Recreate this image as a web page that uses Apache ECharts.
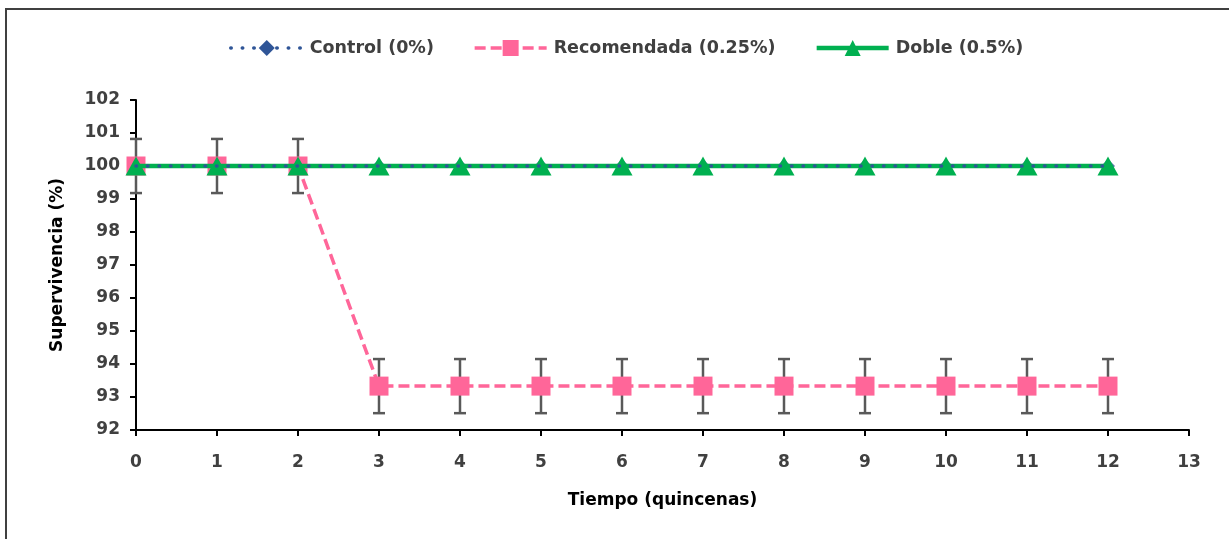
<!DOCTYPE html>
<html>
<head>
<meta charset="utf-8">
<script src="https://cdn.jsdelivr.net/npm/echarts@6/dist/echarts.min.js"></script>
<style>
  html, body { margin: 0; padding: 0; background: #fff; }
  #chart { width: 1229px; height: 539px; }
</style>
</head>
<body>
<div id="chart"></div>
<script>
// Survival (%) per fortnight for three treatment doses
const tiempo = [0, 1, 2, 3, 4, 5, 6, 7, 8, 9, 10, 11, 12];
const control = [100, 100, 100, 100, 100, 100, 100, 100, 100, 100, 100, 100, 100];
const recomendada = [100, 100, 100, 93.33, 93.33, 93.33, 93.33, 93.33, 93.33, 93.33, 93.33, 93.33, 93.33];
const doble = [100, 100, 100, 100, 100, 100, 100, 100, 100, 100, 100, 100, 100];
// Standard deviation shown as error bars on the recommended dose
const recomendadaDE = [0.82, 0.82, 0.82, 0.82, 0.82, 0.82, 0.82, 0.82, 0.82, 0.82, 0.82, 0.82, 0.82];

const serieNames = ['Control (0%)', 'Recomendada (0.25%)', 'Doble (0.5%)'];

const FONT = '"DejaVu Sans", "Noto Sans", sans-serif';
const BLUE = '#2F5597', PINK = '#FF6699', GREEN = '#00B050';

const pairs = (ys) => tiempo.map((t, i) => [t, ys[i]]);
const errData = tiempo.map((t, i) => [t, recomendada[i] - recomendadaDE[i], recomendada[i] + recomendadaDE[i]]);

const chart = echarts.init(document.getElementById('chart'), null, { renderer: 'canvas' });

chart.setOption({
  animation: false,
  backgroundColor: '#fff',
  textStyle: { fontFamily: FONT },
  graphic: [{
    type: 'rect',
    shape: { x: 6, y: 9, width: 1400, height: 700 },
    style: { fill: 'none', stroke: '#404040', lineWidth: 2 },
    silent: true
  }],
  legend: {
    data: serieNames,
    top: 34,
    left: 224,
    itemWidth: 72,
    itemHeight: 20,
    itemGap: 39,
    lineStyle: { width: 'inherit' },
    textStyle: { fontFamily: FONT, fontWeight: 'bold', fontSize: 17.5, color: '#404040', padding: [0, 0, 0, 2] }
  },
  grid: { left: 136, right: 40, top: 100, bottom: 109, containLabel: false },
  xAxis: {
    type: 'value',
    min: 0, max: 13, interval: 1,
    name: 'Tiempo (quincenas)',
    nameLocation: 'middle',
    nameGap: 62,
    nameTextStyle: { fontFamily: FONT, fontWeight: 'bold', fontSize: 17, color: '#000' },
    axisLine: { show: true, onZero: false, lineStyle: { color: '#000', width: 2 } },
    axisTick: { show: true, length: 6, lineStyle: { color: '#000', width: 2 } },
    axisLabel: { margin: 24, fontFamily: FONT, fontWeight: 'bold', fontSize: 17, color: '#404040' },
    splitLine: { show: false }
  },
  yAxis: {
    type: 'value',
    min: 92, max: 102, interval: 1,
    name: 'Supervivencia (%)',
    nameLocation: 'middle',
    nameGap: 70,
    nameTextStyle: { fontFamily: FONT, fontWeight: 'bold', fontSize: 17, color: '#000' },
    axisLine: { show: true, lineStyle: { color: '#000', width: 2 } },
    axisTick: { show: true, length: 6, lineStyle: { color: '#000', width: 2 } },
    axisLabel: { margin: 16, fontFamily: FONT, fontWeight: 'bold', fontSize: 17, color: '#404040' },
    splitLine: { show: false }
  },
  series: [
    {
      // error bars (± SD)
      type: 'custom',
      z: 1,
      silent: true,
      data: errData,
      encode: { x: 0, y: [1, 2] },
      renderItem: function (params, api) {
        const x = api.value(0);
        const lo = api.coord([x, api.value(1)]);
        const hi = api.coord([x, api.value(2)]);
        const cap = 6;
        const st = { stroke: '#595959', lineWidth: 2.5 };
        return {
          type: 'group',
          children: [
            { type: 'line', shape: { x1: lo[0], y1: lo[1], x2: hi[0], y2: hi[1] }, style: st },
            { type: 'line', shape: { x1: hi[0] - cap, y1: hi[1], x2: hi[0] + cap, y2: hi[1] }, style: st },
            { type: 'line', shape: { x1: lo[0] - cap, y1: lo[1], x2: lo[0] + cap, y2: lo[1] }, style: st }
          ]
        };
      }
    },
    {
      // control diamonds, kept beneath the other markers
      type: 'scatter',
      z: 2,
      silent: true,
      symbol: 'diamond',
      symbolSize: 14,
      itemStyle: { color: BLUE },
      data: pairs(control)
    },
    {
      name: serieNames[1],
      type: 'line',
      z: 3,
      data: pairs(recomendada),
      symbol: 'rect',
      symbolSize: 19,
      showAllSymbol: true,
      itemStyle: { color: PINK },
      lineStyle: { color: PINK, width: 3.5, type: [11, 5] }
    },
    {
      name: serieNames[2],
      type: 'line',
      z: 4,
      data: pairs(doble),
      symbol: 'triangle',
      symbolSize: [21, 19],
      showAllSymbol: true,
      itemStyle: { color: GREEN },
      lineStyle: { color: GREEN, width: 4.5 }
    },
    {
      // control line drawn over the green one; its markers live in the scatter above
      name: serieNames[0],
      type: 'line',
      z: 5,
      data: pairs(control).map(p => ({ value: p, symbol: 'none' })),
      symbol: 'diamond',
      symbolSize: 14,
      itemStyle: { color: BLUE },
      lineStyle: { color: BLUE, width: 3.5, type: [0.5, 11], cap: 'round' }
    }
  ]
});
</script>
</body>
</html>
